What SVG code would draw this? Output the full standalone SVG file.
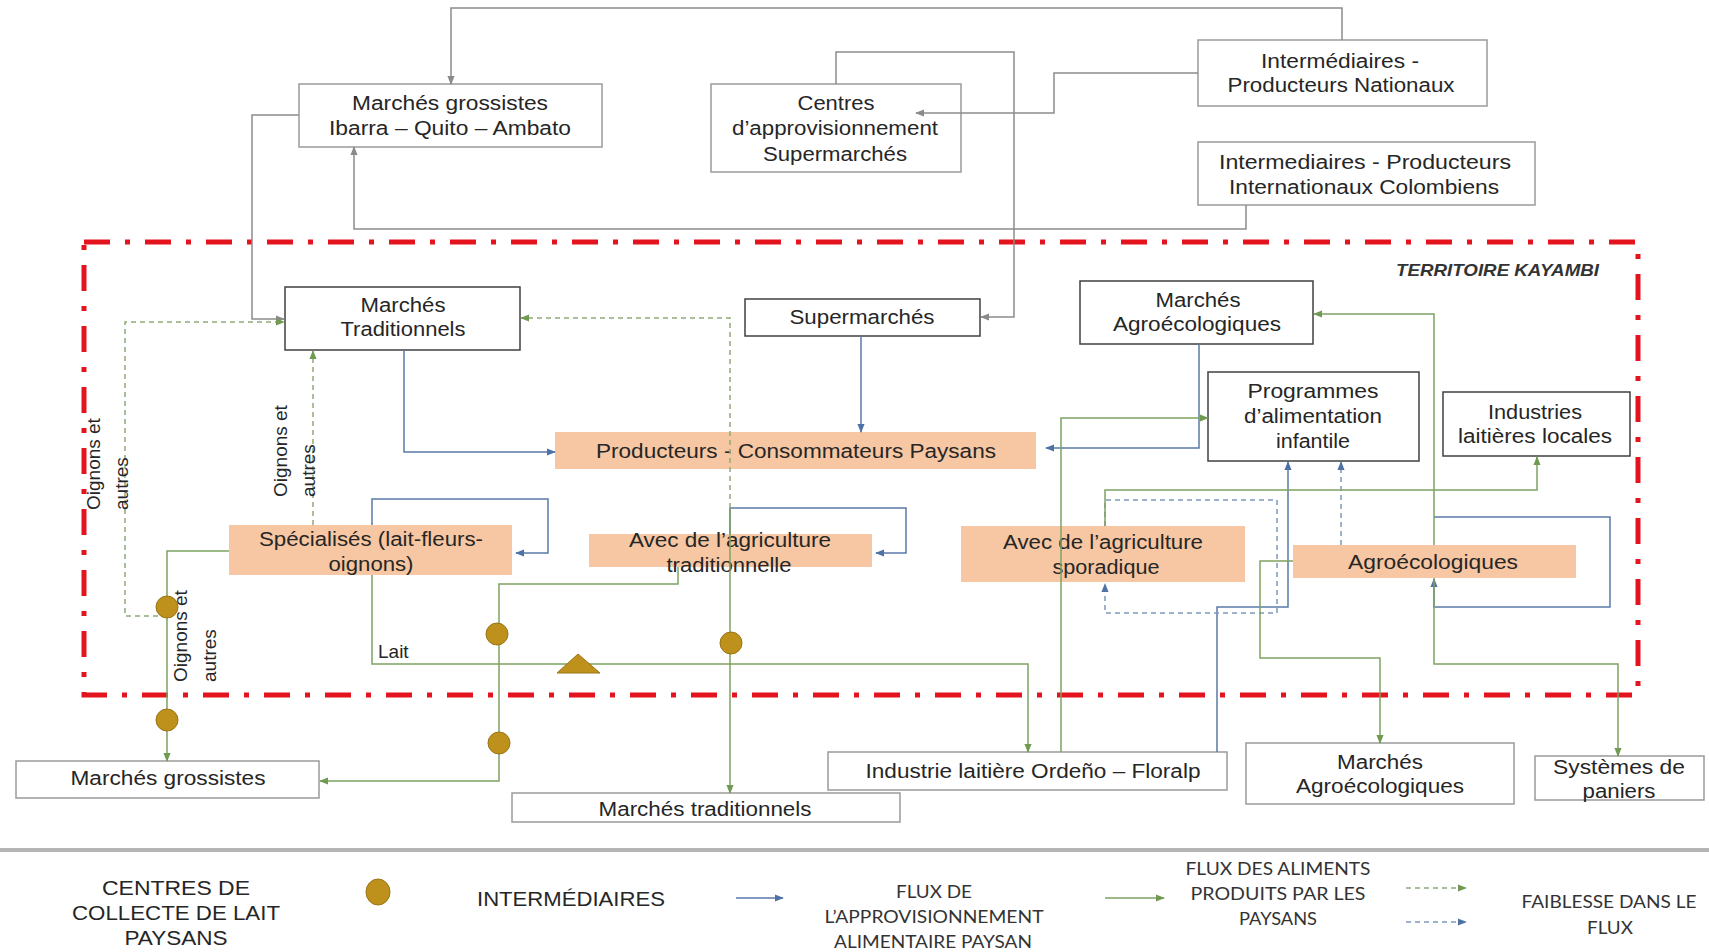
<svg xmlns="http://www.w3.org/2000/svg" width="1709" height="952" viewBox="0 0 1709 952">
<style>
.t{font-family:"Liberation Sans",Arial,sans-serif;font-size:20px;fill:#262626;text-anchor:middle}
.r{font-family:"Liberation Sans",Arial,sans-serif;font-size:19px;fill:#262626}
.lg{font-family:Lato,"Open Sans",sans-serif;font-size:17px;fill:#333;text-anchor:middle}
.bx{fill:#fff;stroke:#404040;stroke-width:1.5}
.bo{fill:#fff;stroke:#9a9a9a;stroke-width:1.5}
.or{fill:#F7C6A2}
.cy{fill:none;stroke:#8c8c8c;stroke-width:1.5}
.cb{fill:none;stroke:#5a7aa8;stroke-width:1.5}
.cg{fill:none;stroke:#7ea262;stroke-width:1.5}
.cgd{fill:none;stroke:#8fab78;stroke-width:1.5;stroke-dasharray:5 4}
.cbd{fill:none;stroke:#7f98c0;stroke-width:1.5;stroke-dasharray:5 4}
.ci{fill:#BE901C;stroke:#9a7416;stroke-width:1}
</style>
<defs>
<marker id="ab" viewBox="0 0 10 10" refX="9" refY="5" markerWidth="9" markerHeight="9" markerUnits="userSpaceOnUse" orient="auto"><path d="M0,1 L10,5 L0,9 z" fill="#4f72a6"/></marker>
<marker id="ag" viewBox="0 0 10 10" refX="9" refY="5" markerWidth="9" markerHeight="9" markerUnits="userSpaceOnUse" orient="auto"><path d="M0,1 L10,5 L0,9 z" fill="#6f9a50"/></marker>
<marker id="ay" viewBox="0 0 10 10" refX="9" refY="5" markerWidth="9" markerHeight="9" markerUnits="userSpaceOnUse" orient="auto"><path d="M0,1 L10,5 L0,9 z" fill="#8a8a8a"/></marker>
</defs>
<rect width="1709" height="952" fill="#fff"/>

<g id="territoire">
<rect x="84" y="242" width="1554" height="453" fill="none" stroke="#e3141e" stroke-width="5" stroke-dasharray="26 15 5 15"/>
<text x="1599" y="276" style="font-family:'Liberation Sans',Arial,sans-serif;font-size:17px;font-weight:bold;font-style:italic;fill:#333;text-anchor:end" textLength="203" lengthAdjust="spacingAndGlyphs">TERRITOIRE KAYAMBI</text>
</g>

<g id="n-grossistes-ibarra"><rect class="bo" x="299" y="84" width="303" height="63"/>
<text class="t" x="450" y="110" textLength="196" lengthAdjust="spacingAndGlyphs">Marchés grossistes</text>
<text class="t" x="450" y="135" textLength="242" lengthAdjust="spacingAndGlyphs">Ibarra – Quito – Ambato</text></g>

<g id="n-centres"><rect class="bo" x="711" y="84" width="250" height="88"/>
<text class="t" x="836" y="110" textLength="77" lengthAdjust="spacingAndGlyphs">Centres</text>
<text class="t" x="835" y="135" textLength="206" lengthAdjust="spacingAndGlyphs">d’approvisionnement</text>
<text class="t" x="835" y="161" textLength="144" lengthAdjust="spacingAndGlyphs">Supermarchés</text></g>

<g id="n-nationaux"><rect class="bo" x="1198" y="40" width="289" height="66"/>
<text class="t" x="1340" y="68" textLength="158" lengthAdjust="spacingAndGlyphs">Intermédiaires -</text>
<text class="t" x="1341" y="92" textLength="227" lengthAdjust="spacingAndGlyphs">Producteurs Nationaux</text></g>

<g id="n-colombiens"><rect class="bo" x="1198" y="142" width="337" height="63"/>
<text class="t" x="1365" y="169" textLength="292" lengthAdjust="spacingAndGlyphs">Intermediaires - Producteurs</text>
<text class="t" x="1364" y="194" textLength="270" lengthAdjust="spacingAndGlyphs">Internationaux Colombiens</text></g>

<g id="n-marches-trad"><rect class="bx" x="285" y="287" width="235" height="63"/>
<text class="t" x="403" y="312" textLength="85" lengthAdjust="spacingAndGlyphs">Marchés</text>
<text class="t" x="403" y="336" textLength="125" lengthAdjust="spacingAndGlyphs">Traditionnels</text></g>

<g id="n-supermarches"><rect class="bx" x="745" y="299" width="235" height="37"/>
<text class="t" x="862" y="324" textLength="145" lengthAdjust="spacingAndGlyphs">Supermarchés</text></g>

<g id="n-agro-in"><rect class="bx" x="1080" y="281" width="233" height="63"/>
<text class="t" x="1198" y="307" textLength="85" lengthAdjust="spacingAndGlyphs">Marchés</text>
<text class="t" x="1197" y="331" textLength="168" lengthAdjust="spacingAndGlyphs">Agroécologiques</text></g>

<g id="n-programmes"><rect class="bx" x="1208" y="372" width="211" height="89"/>
<text class="t" x="1313" y="398" textLength="131" lengthAdjust="spacingAndGlyphs">Programmes</text>
<text class="t" x="1313" y="423" textLength="138" lengthAdjust="spacingAndGlyphs">d’alimentation</text>
<text class="t" x="1313" y="448" textLength="74" lengthAdjust="spacingAndGlyphs">infantile</text></g>

<g id="n-industries-locales"><rect class="bx" x="1443" y="392" width="187" height="64"/>
<text class="t" x="1535" y="419" textLength="94" lengthAdjust="spacingAndGlyphs">Industries</text>
<text class="t" x="1535" y="443" textLength="154" lengthAdjust="spacingAndGlyphs">laitières locales</text></g>

<g id="n-producteurs"><rect class="or" x="555" y="432" width="481" height="37"/>
<text class="t" x="796" y="458" textLength="400" lengthAdjust="spacingAndGlyphs">Producteurs - Consommateurs Paysans</text></g>

<g id="n-specialises"><rect class="or" x="229" y="525" width="283" height="50"/>
<text class="t" x="371" y="546" textLength="224" lengthAdjust="spacingAndGlyphs">Spécialisés (lait-fleurs-</text>
<text class="t" x="371" y="571" textLength="85" lengthAdjust="spacingAndGlyphs">oignons)</text></g>

<g id="n-traditionnelle"><rect class="or" x="589" y="534" width="283" height="33"/>
<text class="t" x="730" y="547" textLength="202" lengthAdjust="spacingAndGlyphs">Avec de l’agriculture</text>
<text class="t" x="729" y="572" textLength="125" lengthAdjust="spacingAndGlyphs">traditionnelle</text></g>

<g id="n-sporadique"><rect class="or" x="961" y="526" width="284" height="56"/>
<text class="t" x="1103" y="549" textLength="200" lengthAdjust="spacingAndGlyphs">Avec de l’agriculture</text>
<text class="t" x="1106" y="574" textLength="107" lengthAdjust="spacingAndGlyphs">sporadique</text></g>

<g id="n-agroecologiques"><rect class="or" x="1293" y="545" width="283" height="33"/>
<text class="t" x="1433" y="569" textLength="170" lengthAdjust="spacingAndGlyphs">Agroécologiques</text></g>

<g id="n-grossistes-out"><rect class="bo" x="16" y="761" width="303" height="37"/>
<text class="t" x="168" y="785" textLength="195" lengthAdjust="spacingAndGlyphs">Marchés grossistes</text></g>

<g id="n-trad-out"><rect class="bo" x="512" y="793" width="388" height="29"/>
<text class="t" x="705" y="816" textLength="213" lengthAdjust="spacingAndGlyphs">Marchés traditionnels</text></g>

<g id="n-ordeno"><rect class="bo" x="828" y="752" width="399" height="38"/>
<text class="t" x="1033" y="778" textLength="335" lengthAdjust="spacingAndGlyphs">Industrie laitière Ordeño – Floralp</text></g>

<g id="n-agro-out"><rect class="bo" x="1246" y="743" width="268" height="61"/>
<text class="t" x="1380" y="769" textLength="86" lengthAdjust="spacingAndGlyphs">Marchés</text>
<text class="t" x="1380" y="793" textLength="168" lengthAdjust="spacingAndGlyphs">Agroécologiques</text></g>

<g id="n-paniers"><rect class="bo" x="1535" y="756" width="169" height="44"/>
<text class="t" x="1619" y="774" textLength="132" lengthAdjust="spacingAndGlyphs">Systèmes de</text>
<text class="t" x="1619" y="798" textLength="73" lengthAdjust="spacingAndGlyphs">paniers</text></g>

<g id="connectors">
<polyline class="cy" points="1342,40 1342,8 451,8 451,84" marker-end="url(#ay)"/>
<polyline class="cy" points="836,84 836,52 1014,52 1014,317 981,317" marker-end="url(#ay)"/>
<polyline class="cy" points="1198,73 1054,73 1054,113 916,113" marker-end="url(#ay)"/>
<polyline class="cy" points="1246,205 1246,229 354,229 354,147" marker-end="url(#ay)"/>
<polyline class="cy" points="299,115 252,115 252,319 284,319" marker-end="url(#ay)"/>

<polyline class="cb" points="404,350 404,452 555,452" marker-end="url(#ab)"/>
<polyline class="cb" points="861,336 861,432" marker-end="url(#ab)"/>
<polyline class="cb" points="1199,344 1199,448 1046,448" marker-end="url(#ab)"/>
<polyline class="cb" points="372,525 372,499 548,499 548,553 516,553" marker-end="url(#ab)"/>
<polyline class="cb" points="730,534 730,508 906,508 906,553 876,553" marker-end="url(#ab)"/>
<polyline class="cb" points="1434,517 1610,517 1610,607 1434,607 1434,579" marker-end="url(#ab)"/>
<polyline class="cb" points="1217,752 1217,607 1288,607 1288,462" marker-end="url(#ab)"/>

<polyline class="cbd" points="1341,545 1341,462" marker-end="url(#ab)"/>
<polyline class="cbd" points="1105,526 1105,500 1277,500 1277,613 1105,613 1105,584" marker-end="url(#ab)"/>

<polyline class="cg" points="229,551 167,551 167,761" marker-end="url(#ag)"/>
<polyline class="cg" points="678,567 678,584 499,584 499,781 320,781" marker-end="url(#ag)"/>
<polyline class="cg" points="730,508 730,793" marker-end="url(#ag)"/>
<polyline class="cg" points="372,575 372,664 1028,664 1028,752" marker-end="url(#ag)"/>
<polyline class="cg" points="1061,752 1061,418 1208,418" marker-end="url(#ag)"/>
<polyline class="cg" points="1105,526 1105,490 1537,490 1537,457" marker-end="url(#ag)"/>
<polyline class="cg" points="1434,545 1434,314 1314,314" marker-end="url(#ag)"/>
<polyline class="cg" points="1293,561 1260,561 1260,658 1380,658 1380,743" marker-end="url(#ag)"/>
<polyline class="cg" points="1434,578 1434,664 1618,664 1618,756" marker-end="url(#ag)"/>

<polyline class="cgd" points="730,508 730,318 521,318" marker-end="url(#ag)"/>
<polyline class="cgd" points="313,525 313,351" marker-end="url(#ag)"/>
<polyline class="cgd" points="167,616 125,616 125,322 284,322" marker-end="url(#ag)"/>
</g>

<g id="labels">
<text class="r" transform="translate(100,510) rotate(-90)">Oignons et</text>
<text class="r" transform="translate(128,510) rotate(-90)">autres</text>
<text class="r" transform="translate(287,497) rotate(-90)">Oignons et</text>
<text class="r" transform="translate(315,497) rotate(-90)">autres</text>
<text class="r" transform="translate(187,682) rotate(-90)">Oignons et</text>
<text class="r" transform="translate(216,682) rotate(-90)">autres</text>
<text class="r" x="378" y="658">Lait</text>
</g>

<g id="intermediaires">
<circle class="ci" cx="167" cy="607" r="11"/>
<circle class="ci" cx="167" cy="720" r="11"/>
<circle class="ci" cx="497" cy="634" r="11"/>
<circle class="ci" cx="499" cy="743" r="11"/>
<circle class="ci" cx="731" cy="643" r="11"/>
</g>
<g id="centre-collecte">
<polygon points="578,654 557,673 600,673" fill="#BE901C" stroke="#9a7416" stroke-width="1"/>
</g>

<g id="legend">
<line x1="0" y1="850" x2="1709" y2="850" stroke="#b4b4b4" stroke-width="4"/>
<text class="t" x="176" y="895" textLength="148" lengthAdjust="spacingAndGlyphs">CENTRES DE</text>
<text class="t" x="176" y="920" textLength="208" lengthAdjust="spacingAndGlyphs">COLLECTE DE LAIT</text>
<text class="t" x="176" y="945" textLength="103" lengthAdjust="spacingAndGlyphs">PAYSANS</text>
<ellipse class="ci" cx="378" cy="892" rx="12" ry="13"/>
<text class="t" x="571" y="906" textLength="188" lengthAdjust="spacingAndGlyphs">INTERMÉDIAIRES</text>
<line x1="736" y1="898" x2="783" y2="898" class="cb" marker-end="url(#ab)"/>
<text class="lg" x="934" y="898" textLength="76" lengthAdjust="spacingAndGlyphs">FLUX DE</text>
<text class="lg" x="934" y="923" textLength="219" lengthAdjust="spacingAndGlyphs">L’APPROVISIONNEMENT</text>
<text class="lg" x="933" y="948" textLength="198" lengthAdjust="spacingAndGlyphs">ALIMENTAIRE PAYSAN</text>
<line x1="1105" y1="898" x2="1164" y2="898" class="cg" marker-end="url(#ag)"/>
<text class="lg" x="1278" y="875" textLength="185" lengthAdjust="spacingAndGlyphs">FLUX DES ALIMENTS</text>
<text class="lg" x="1278" y="900" textLength="175" lengthAdjust="spacingAndGlyphs">PRODUITS PAR LES</text>
<text class="lg" x="1278" y="925" textLength="78" lengthAdjust="spacingAndGlyphs">PAYSANS</text>
<line x1="1406" y1="888" x2="1466" y2="888" class="cgd" marker-end="url(#ag)"/>
<line x1="1406" y1="922" x2="1466" y2="922" class="cbd" marker-end="url(#ab)"/>
<text class="lg" x="1609" y="908" textLength="175" lengthAdjust="spacingAndGlyphs">FAIBLESSE DANS LE</text>
<text class="lg" x="1610" y="934" textLength="46" lengthAdjust="spacingAndGlyphs">FLUX</text>
</g>
</svg>
